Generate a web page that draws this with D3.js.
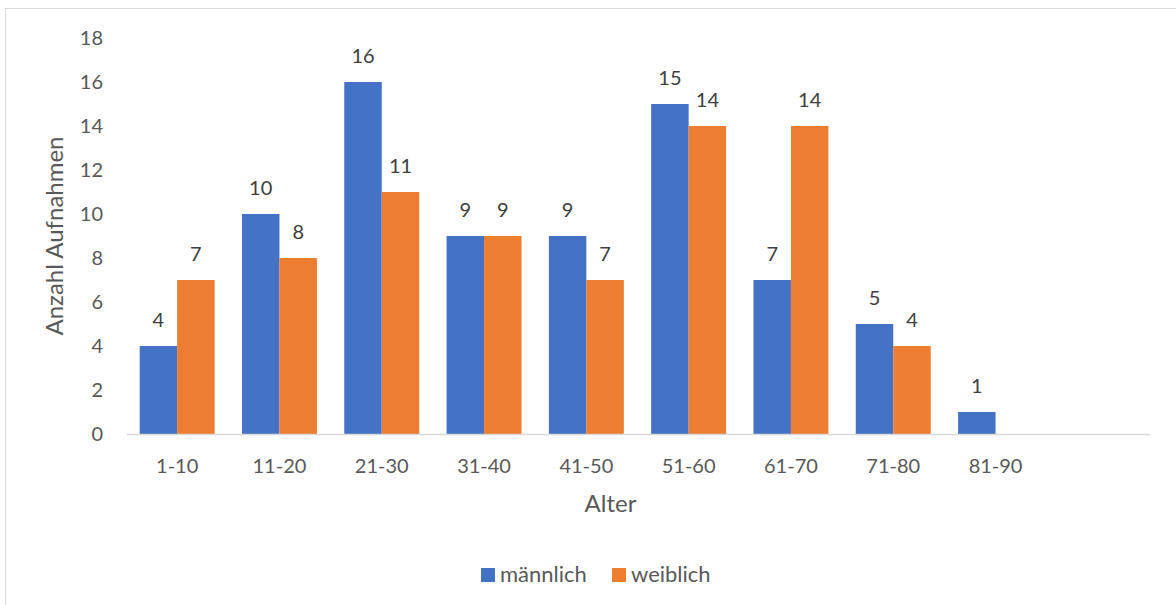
<!DOCTYPE html>
<html><head><meta charset="utf-8">
<script src="https://cdn.jsdelivr.net/npm/d3@7"></script>
<style>body{margin:0;background:#fff;} svg{display:block;font-family:Lato,"Open Sans",sans-serif;}</style>
</head><body><svg id="c" width="1176" height="605"></svg>
<script>
const categories = ["1-10","11-20","21-30","31-40","41-50","51-60","61-70","71-80","81-90",""];
const maennlich = [4,10,16,9,9,15,7,5,1,null];
const weiblich = [7,8,11,9,7,14,14,4,null,null];
const seriesNames = ["männlich","weiblich"];
const colors = ["#4472C4","#ED7D31"];
const yTicks = [0,2,4,6,8,10,12,14,16,18];

const svg = d3.select("#c");
svg.append("rect").attr("x",5.5).attr("y",8.5).attr("width",1180).attr("height",610)
  .attr("fill","none").attr("stroke","#d9d9d9").attr("stroke-width",1);

const x0 = 127, x1 = 1150, yTop = 38, yBot = 434;
const x = d3.scaleBand().domain(categories.map((c,i)=>i)).range([x0,x1]).paddingInner(0).paddingOuter(0);
const y = d3.scaleLinear().domain([0,18]).range([yBot,yTop]);
const bw = x.bandwidth();
const barW = bw/(2+0.73);
const xs = d3.scaleBand().domain([0,1]).range([0,2*barW]);

const series = [maennlich, weiblich];
series.forEach((vals,si)=>{
  const g = svg.append("g");
  vals.forEach((v,i)=>{
    if(v==null) return;
    const bx = x(i) + (bw-2*barW)/2 + xs(si) - 1;
    g.append("rect").attr("x",bx).attr("y",y(v)).attr("width",xs.bandwidth()).attr("height",y(0)-y(v)).attr("fill",colors[si]);
    g.append("text").attr("x",bx+xs.bandwidth()/2).attr("y",y(v)-19).attr("text-anchor","middle")
      .attr("font-size",20).attr("fill","#404040").text(v);
  });
});

// x axis line
svg.append("line").attr("x1",x0).attr("x2",x1).attr("y1",yBot+0.5).attr("y2",yBot+0.5).attr("stroke","#d9d9d9").attr("stroke-width",1.5);
// x tick labels
categories.forEach((c,i)=>{
  svg.append("text").attr("x",x(i)+bw/2-1).attr("y",473).attr("text-anchor","middle").attr("font-size",20).attr("fill","#595959").text(c);
});
// y tick labels
yTicks.forEach(t=>{
  svg.append("text").attr("x",103).attr("y",y(t)+7).attr("text-anchor","end").attr("font-size",20).attr("fill","#595959").text(t);
});
// titles
svg.append("text").attr("x",(x0+x1)/2-28).attr("y",512).attr("text-anchor","middle").attr("font-size",24).attr("fill","#595959").text("Alter");
svg.append("text").attr("transform","translate(63,236) rotate(-90)").attr("text-anchor","middle").attr("font-size",24).attr("fill","#595959").text("Anzahl Aufnahmen");
// legend
const leg = svg.append("g");
const legX = [481,612];
seriesNames.forEach((n,i)=>{
  leg.append("rect").attr("x",legX[i]).attr("y",568).attr("width",14).attr("height",14).attr("fill",colors[i]);
  leg.append("text").attr("x",legX[i]+19).attr("y",582).attr("font-size",22).attr("fill","#595959").text(n);
});
</script></body></html>
